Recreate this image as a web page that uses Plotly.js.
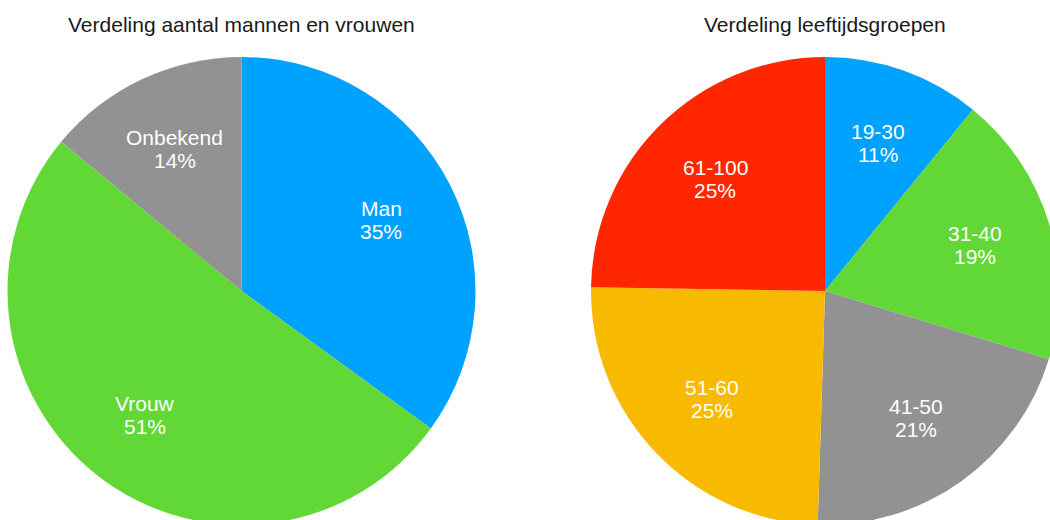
<!DOCTYPE html>
<html>
<head>
<meta charset="utf-8">
<script src="https://cdn.plot.ly/plotly-3.0.1.min.js"></script>
<style>
html,body{margin:0;padding:0;overflow:hidden;background:#fff;}
#chart{width:1070px;height:560px;}
</style>
</head>
<body>
<div id="chart"></div>
<script>
// Data
const genderLabels = ["Man", "Vrouw", "Onbekend"];
const genderValues = [35, 51, 14];
const genderColors = ["#00A2FF", "#61D836", "#929292"];

const ageLabels = ["19-30", "31-40", "41-50", "51-60", "61-100"];
const ageValues = [11, 19, 21, 25, 25];
const ageColors = ["#00A2FF", "#61D836", "#929292", "#F8BA00", "#FF2600"];

const titles = ["Verdeling aantal mannen en vrouwen", "Verdeling leeftijdsgroepen"];

// Layout constants (pixels)
const W = 1070, H = 560;
const FONT = "Liberation Sans, Arial, Helvetica, sans-serif";
const FS = 21;
const pies = [
  {cx: 241.5, cy: 291, r: 234},
  {cx: 825, cy: 291, r: 234}
];
const LABEL_R = 0.67;   // label distance as fraction of radius
const LINE_GAP = 11.5;  // half distance between the two label lines

function pieTrace(labels, values, colors, p) {
  return {
    type: "pie",
    labels: labels,
    values: values,
    sort: false,
    direction: "clockwise",
    rotation: 0,
    marker: {colors: colors, line: {width: 0}},
    textinfo: "none",
    hoverinfo: "label+value",
    showlegend: false,
    domain: {
      x: [(p.cx - p.r) / W, (p.cx + p.r) / W],
      y: [(H - (p.cy + p.r)) / H, (H - (p.cy - p.r)) / H]
    }
  };
}

// Slice labels placed along each slice's bisector, derived from the values
function sliceLabels(labels, values, p) {
  const total = values.reduce((a, b) => a + b, 0);
  const out = [];
  let cum = 0;
  values.forEach((v, i) => {
    const mid = (cum + v / 2) / total * 2 * Math.PI;
    cum += v;
    const px = p.cx + LABEL_R * p.r * Math.sin(mid);
    const py = p.cy - LABEL_R * p.r * Math.cos(mid);
    const base = {x: px / W, y: (H - py) / H, xref: "paper", yref: "paper",
      xanchor: "center", yanchor: "middle", showarrow: false,
      font: {family: FONT, size: FS, color: "#ffffff"}};
    out.push(Object.assign({}, base, {text: labels[i], yshift: LINE_GAP}));
    out.push(Object.assign({}, base, {text: v + "%", yshift: -LINE_GAP}));
  });
  return out;
}

const data = [
  pieTrace(genderLabels, genderValues, genderColors, pies[0]),
  pieTrace(ageLabels, ageValues, ageColors, pies[1])
];

const titleAnn = titles.map((t, i) => ({
  text: t, x: pies[i].cx / W, y: (H - 25) / H, xref: "paper", yref: "paper",
  xanchor: "center", yanchor: "middle", showarrow: false,
  font: {family: FONT, size: FS, color: "#1a1a1a"}
}));

const layout = {
  width: W,
  height: H,
  margin: {l: 0, r: 0, t: 0, b: 0},
  paper_bgcolor: "#ffffff",
  showlegend: false,
  annotations: titleAnn
    .concat(sliceLabels(genderLabels, genderValues, pies[0]))
    .concat(sliceLabels(ageLabels, ageValues, pies[1]))
};

Plotly.newPlot("chart", data, layout, {staticPlot: true, displayModeBar: false});
</script>
</body>
</html>
